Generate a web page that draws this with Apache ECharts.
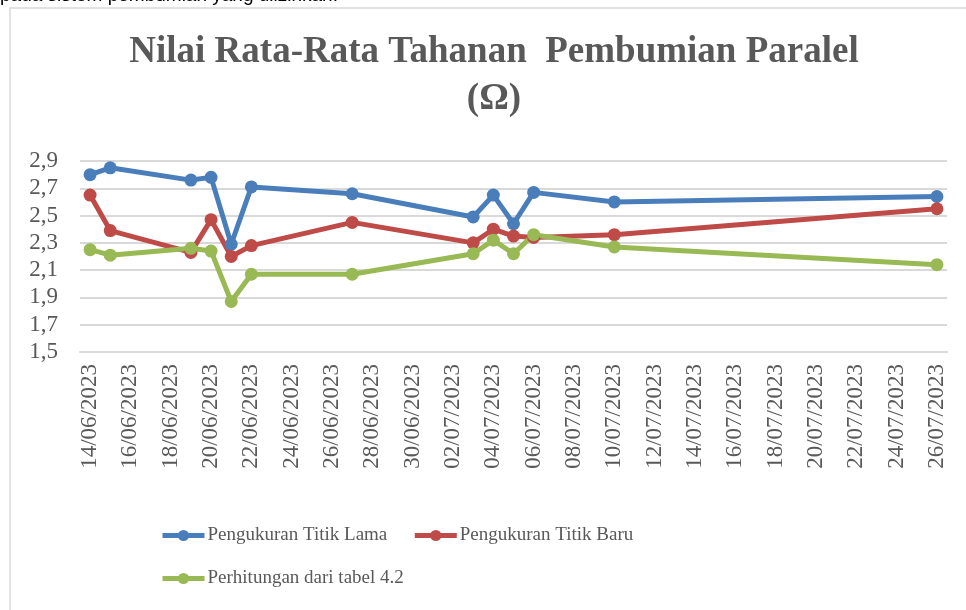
<!DOCTYPE html>
<html>
<head>
<meta charset="utf-8">
<script src="https://cdn.jsdelivr.net/npm/echarts@6/dist/echarts.min.js"></script>
<style>
  html, body { margin: 0; padding: 0; background: #fff; }
  #chart { width: 966px; height: 610px; }
</style>
</head>
<body>
<div id="chart"></div>
<script>
// semua tanggal pada sumbu x (satu kategori per hari)
var days = [
  '14/06/2023', '15/06/2023', '16/06/2023', '17/06/2023', '18/06/2023', '19/06/2023',
  '20/06/2023', '21/06/2023', '22/06/2023', '23/06/2023', '24/06/2023', '25/06/2023',
  '26/06/2023', '27/06/2023', '28/06/2023', '29/06/2023', '30/06/2023', '01/07/2023',
  '02/07/2023', '03/07/2023', '04/07/2023', '05/07/2023', '06/07/2023', '07/07/2023',
  '08/07/2023', '09/07/2023', '10/07/2023', '11/07/2023', '12/07/2023', '13/07/2023',
  '14/07/2023', '15/07/2023', '16/07/2023', '17/07/2023', '18/07/2023', '19/07/2023',
  '20/07/2023', '21/07/2023', '22/07/2023', '23/07/2023', '24/07/2023', '25/07/2023',
  '26/07/2023'
];

// tanggal pengukuran
var measure_dates = [
  '14/06/2023', '15/06/2023', '19/06/2023', '20/06/2023', '21/06/2023', '22/06/2023',
  '27/06/2023', '03/07/2023', '04/07/2023', '05/07/2023', '06/07/2023', '10/07/2023',
  '26/07/2023'
];

var titik_lama = [2.80, 2.85, 2.76, 2.78, 2.29, 2.71, 2.66, 2.49, 2.65, 2.44, 2.67, 2.60, 2.64];
var titik_baru = [2.65, 2.39, 2.23, 2.47, 2.20, 2.28, 2.45, 2.30, 2.40, 2.35, 2.34, 2.36, 2.55];
var tabel_42 = [2.25, 2.21, 2.26, 2.24, 1.87, 2.07, 2.07, 2.22, 2.32, 2.22, 2.36, 2.27, 2.14];

var series_names = ['Pengukuran Titik Lama', 'Pengukuran Titik Baru', 'Perhitungan dari tabel 4.2'];
var series_colors = ['#4a7ebb', '#be4b48', '#98b954'];

var chart_dom = document.getElementById('chart');
var chart = echarts.init(chart_dom, null, { renderer: 'canvas' });

function pairs(values) {
  return values.map(function (v, i) { return [measure_dates[i], v]; });
}

function make_series(name, values, color) {
  return {
    name: name,
    type: 'line',
    data: pairs(values),
    symbol: 'circle',
    symbolSize: 13,
    color: color,
    lineStyle: { width: 5, color: color },
    itemStyle: { color: color },
    animation: false
  };
}

var text_color = '#595959';
var serif = '"Liberation Serif", "DejaVu Serif", serif';

// legenda dengan garis tebal seperti Excel
function make_legend(names, top) {
  return {
    data: names,
    left: 160,
    top: top,
    padding: 0,
    itemWidth: 42,
    itemHeight: 14,
    itemGap: 25,
    lineStyle: { width: 5 },
    textStyle: { fontFamily: serif, fontSize: 19, color: text_color, padding: [0, 0, 0, -2] }
  };
}

// judul dua baris, dipusatkan pada x = 494 (bingkai grafik mulai di x = 10)
function title_line(text, y) {
  return {
    type: 'text',
    x: 494,
    y: y,
    style: {
      text: text,
      align: 'center',
      verticalAlign: 'middle',
      font: 'bold 37px ' + serif,
      fill: text_color
    },
    silent: true
  };
}

var option = {
  backgroundColor: '#fff',
  graphic: [
    {
      type: 'rect',
      shape: { x: 10, y: 8, width: 980, height: 640 },
      style: { fill: 'none', stroke: '#d9d9d9', lineWidth: 1.5 },
      silent: true
    },
    {
      type: 'text',
      left: 0,
      top: -14,
      style: {
        text: 'pada sistem pembumian yang diizinkan.',
        font: '19px "Liberation Sans", Arial, sans-serif',
        fill: '#000'
      },
      silent: true
    },
    title_line('Nilai Rata-Rata Tahanan  Pembumian Paralel', 52),
    title_line('(Ω)', 99)
  ],
  legend: [
    make_legend([series_names[0], series_names[1]], 526),
    make_legend([series_names[2]], 569)
  ],
  grid: {
    left: 80,
    right: 19,
    top: 161,
    bottom: 258,
    containLabel: false
  },
  xAxis: {
    type: 'category',
    data: days,
    boundaryGap: true,
    axisTick: { show: false },
    axisLine: { show: true, lineStyle: { color: '#d9d9d9', width: 2 } },
    axisLabel: {
      rotate: 90,
      interval: 1,
      margin: 12,
      fontFamily: serif,
      fontSize: 23,
      color: text_color
    },
    splitLine: { show: false }
  },
  yAxis: {
    type: 'value',
    min: 1.5,
    max: 2.9,
    interval: 0.2,
    axisLine: { show: false },
    axisTick: { show: false },
    axisLabel: {
      margin: 22,
      fontFamily: serif,
      fontSize: 23,
      color: text_color,
      formatter: function (v) { return v.toFixed(1).replace('.', ','); }
    },
    splitLine: { lineStyle: { color: '#d9d9d9', width: 2 } }
  },
  series: [
    make_series(series_names[0], titik_lama, series_colors[0]),
    make_series(series_names[1], titik_baru, series_colors[1]),
    make_series(series_names[2], tabel_42, series_colors[2])
  ]
};

chart.setOption(option);
</script>
</body>
</html>
